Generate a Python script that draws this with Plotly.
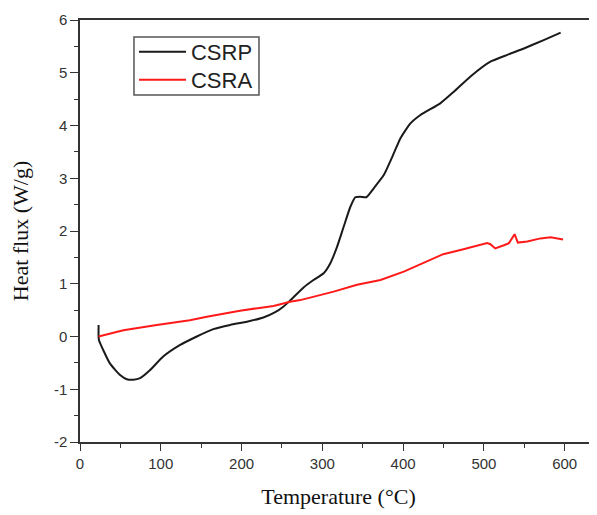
import plotly.graph_objects as go

# CSRP (black) temperature / heat flux
csrp_t = [23, 23, 23.5, 37, 49.6, 57.9, 66, 74.4, 86.8, 103, 124, 144.6, 165, 186, 206.6, 227,
          241.7, 252, 260, 276.8, 289, 301.6, 309.9, 318.2, 326.4, 334.7, 340.9, 347, 354.5,
          363.6, 376, 388.4, 396.7, 409, 421.5, 446, 462.8, 483.4, 508, 529, 549.5, 574, 595]
csrp_q = [0.22, 0.0, -0.07, -0.51, -0.73, -0.81, -0.82, -0.79, -0.635, -0.38, -0.16, 0.0, 0.14,
          0.22, 0.28, 0.36, 0.46, 0.57, 0.68, 0.93, 1.07, 1.2, 1.39, 1.70, 2.08, 2.46, 2.64,
          2.65, 2.64, 2.81, 3.06, 3.47, 3.76, 4.04, 4.2, 4.42, 4.64, 4.93, 5.21, 5.34, 5.46,
          5.62, 5.76]

# CSRA (red)
csra_t = [23, 53.7, 95, 136, 157, 198, 239.6, 260, 272.7, 314, 343, 372, 400.8, 425.5, 449.6,
          471, 491.7, 504, 508, 514, 524.7, 531, 538, 542, 553.7, 570, 582.6, 598]
csra_q = [0.0, 0.12, 0.22, 0.31, 0.375, 0.49, 0.58, 0.66, 0.69, 0.85, 0.98, 1.07, 1.23, 1.39,
          1.56, 1.64, 1.73, 1.77, 1.75, 1.67, 1.73, 1.77, 1.94, 1.78, 1.80, 1.86, 1.88, 1.84]

x_ticks = [0, 100, 200, 300, 400, 500, 600]
y_ticks = [-2, -1, 0, 1, 2, 3, 4, 5, 6]

fig = go.Figure()
fig.add_trace(go.Scatter(x=csrp_t, y=csrp_q, mode="lines", name="CSRP", legend="legend",
                         line=dict(color="#1a1a1a", width=2, shape="spline", smoothing=0.5)))
fig.add_trace(go.Scatter(x=csra_t, y=csra_q, mode="lines", name="CSRA", legend="legend2",
                         line=dict(color="#ff1a1a", width=2)))

axis_font = dict(family="Liberation Sans, Arial", size=15, color="#333333")
leg_font = dict(family="Liberation Sans, Arial", size=22, color="#222222")
leg_common = dict(x=0.1044, xanchor="left", yanchor="middle", bgcolor="rgba(0,0,0,0)",
                  borderwidth=0, font=leg_font, itemwidth=47)

fig.update_layout(
    width=597, height=515,
    margin=dict(l=72, r=8, t=12, b=81, autoexpand=False),
    paper_bgcolor="white", plot_bgcolor="white",
    showlegend=True,
    legend=dict(y=0.9242, **leg_common),
    legend2=dict(y=0.8578, **leg_common),
    shapes=[dict(type="rect", xref="paper", yref="paper", x0=0.1044, x1=0.3462,
                 y0=0.8223, y1=0.9597, line=dict(color="#555555", width=1.5),
                 fillcolor="rgba(0,0,0,0)", layer="above")],
    xaxis=dict(range=[0, 640], tickvals=x_ticks, ticktext=[str(v) for v in x_ticks],
               automargin=False,
               showgrid=False, zeroline=False, showline=True, linecolor="#333333", linewidth=1.5,
               mirror=True, ticks="outside", ticklen=7, tickwidth=1.2, tickcolor="#333333",
               minor=dict(dtick=50, tick0=0, ticks="outside", ticklen=4, tickcolor="#333333",
                          showgrid=False),
               tickfont=axis_font,
               title=dict(text="Temperature (\u00b0C)", standoff=18,
                          font=dict(family="Liberation Serif, Times New Roman", size=22,
                                    color="#111111"))),
    yaxis=dict(range=[-2, 6], tickvals=y_ticks, ticktext=[str(v) for v in y_ticks],
               automargin=False,
               showgrid=False, zeroline=False, showline=True, linecolor="#333333", linewidth=1.5,
               ticks="outside", ticklen=8, tickwidth=1.2, tickcolor="#333333",
               minor=dict(dtick=0.5, tick0=0, ticks="outside", ticklen=4, tickcolor="#333333",
                          showgrid=False),
               tickfont=axis_font,
               title=dict(text="Heat flux (W/g)", standoff=19,
                          font=dict(family="Liberation Serif, Times New Roman", size=22,
                                    color="#111111"))),
)

fig.write_html("out.html")
